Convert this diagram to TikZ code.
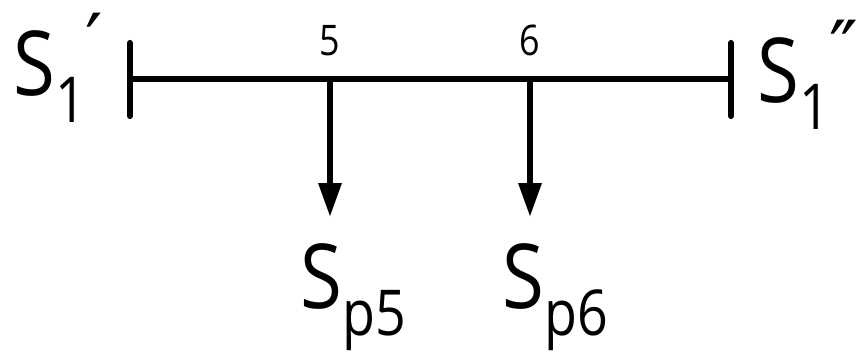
\documentclass[tikz,border=0pt]{standalone}
\usepackage{fontspec}
\setmainfont{Open Sans}[FakeStretch=0.85]
\newfontfamily\primefont{DejaVu Sans}
\usetikzlibrary{arrows.meta,positioning}
\newcommand{\lowsub}[1]{\raisebox{-0.54cm}{\fontsize{36}{36}\selectfont #1}}
\newcommand{\prm}[1]{\raisebox{0.52cm}{\primefont\fontsize{44}{44}\selectfont #1}}

\begin{document}
\begin{tikzpicture}[
  bus/.style={line width=3.5pt,line cap=round},
  arr/.style={line width=3.5pt,-{Triangle[length=6.8mm,width=4.4mm]}},
  num/.style={font=\fontsize{24}{24}\selectfont,anchor=base,inner sep=0pt},
  lbl/.style={font=\fontsize{51}{51}\selectfont,anchor=base west,inner sep=0pt}
]
\useasboundingbox (0,0) rectangle (17.28,7.12);
% main bus
\coordinate (L) at (2.6,5.54);
\coordinate (R) at (14.62,5.54);
\coordinate (n5) at (6.6,5.54);
\coordinate (n6) at (10.6,5.54);
\coordinate (Lt) at (2.6,6.26); \coordinate (Lb) at (2.6,4.8);
\coordinate (Rt) at (14.62,6.26); \coordinate (Rb) at (14.62,4.8);
\draw[bus] (Lt)--(Lb);
\draw[bus] (Rt)--(Rb);
\draw[line width=3.5pt] (L)--(R);
% loads
\coordinate (e5) at (6.6,2.78);
\coordinate (e6) at (10.6,2.78);
\draw[arr] (n5)--(e5);
\draw[arr] (n6)--(e6);
\node[num] (t5) at (6.6,6.02) {5};
\node[num] (t6) at (10.6,6.02) {6};
% labels
\node[lbl] (s1a) at (0.26,5.22) {S\lowsub{1}\prm{′}};
\node[lbl] (s1b) at (15.14,5.08) {S\lowsub{1}\prm{″}};
\node[lbl] (sp5) at (6.0,0.96) {S\lowsub{p5}};
\node[lbl] (sp6) at (10.04,0.96) {S\lowsub{p6}};
\end{tikzpicture}
\end{document}
